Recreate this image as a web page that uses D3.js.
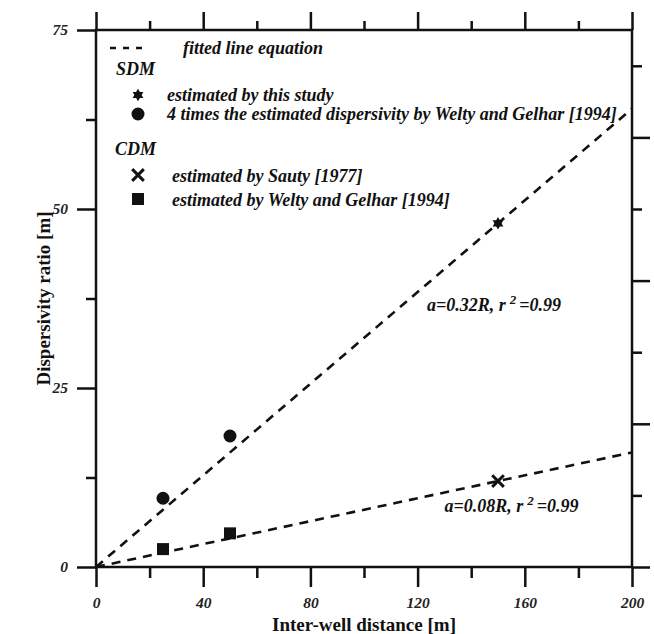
<!DOCTYPE html>
<html>
<head>
<meta charset="utf-8">
<script src="https://cdn.jsdelivr.net/npm/d3@7"></script>
<style>
  body { margin: 0; background: #fff; }
  svg { display: block; }
  .tick text { font-family: "Liberation Serif", serif; font-weight: bold; font-style: italic; font-size: 15.5px; fill: #222; }
  .lbl { font-family: "Liberation Serif", serif; font-weight: bold; font-style: italic; font-size: 18px; fill: #111; }
  .title { font-family: "Liberation Serif", serif; font-weight: bold; font-size: 19px; fill: #111; }
</style>
</head>
<body>
<script>
(function(){

    //data
    var starX = [150], starY = [48];            //SDM, this study
    var circleX = [25, 50], circleY = [9.6, 18.3]; //SDM, 4x Welty and Gelhar
    var crossX = [150], crossY = [12];          //CDM, Sauty
    var squareX = [25, 50], squareY = [2.5, 4.7]; //CDM, Welty and Gelhar
    var fitSlopes = [0.32, 0.08];
    var fitLabels = ["a=0.32R, r", "a=0.08R, r"];
    var fitLabelPos = [[123.5, 35.8], [130, 7.7]]; //x, y in data units
    var xMajor = [0, 40, 80, 120, 160, 200], xMinor = [20, 60, 100, 140, 180];
    var yMajor = [0, 25, 50, 75], yMinor = [12.5, 37.5, 62.5];
    var rMajor = [0, 2, 4, 6], rMinor = [1, 3, 5, 7];

    var width = 654, height = 634;
    var left = 96, right = 632, top = 30, bottom = 567;

    var svg = d3.select("body").append("svg")
        .attr("width", width)
        .attr("height", height);

    var x = d3.scaleLinear().domain([0, 200]).range([left, right]);
    var y = d3.scaleLinear().domain([0, 75]).range([bottom, top]);
    var yr = d3.scaleLinear().domain([0, 7.5]).range([bottom, top]);

    //axes: major and minor ticks drawn as separate axes
    function drawAxis(axis, tr, labels){
        var g = svg.append("g").attr("transform", tr).call(axis);
        g.select(".domain").remove();
        g.selectAll(".tick line").attr("stroke", "#111").attr("stroke-width", 2.5);
        if (!labels) g.selectAll(".tick text").remove();
        return g;
    }

    drawAxis(d3.axisBottom(x).tickValues(xMajor).tickSize(20).tickPadding(10).tickFormat(d3.format("d")), "translate(0," + bottom + ")", true);
    drawAxis(d3.axisBottom(x).tickValues(xMinor).tickSize(11), "translate(0," + bottom + ")", false);
    drawAxis(d3.axisTop(x).tickValues(xMajor).tickSize(18), "translate(0," + top + ")", false);
    drawAxis(d3.axisTop(x).tickValues(xMinor).tickSize(9), "translate(0," + top + ")", false);
    drawAxis(d3.axisLeft(y).tickValues(yMajor).tickSize(19).tickPadding(9), "translate(" + left + ",0)", true);
    drawAxis(d3.axisLeft(y).tickValues(yMinor).tickSize(10), "translate(" + left + ",0)", false);
    drawAxis(d3.axisRight(yr).tickValues(rMajor).tickSize(18), "translate(" + right + ",0)", false);
    drawAxis(d3.axisRight(yr).tickValues(rMinor).tickSize(10), "translate(" + right + ",0)", false);

    //frame
    svg.append("rect")
        .attr("x", left).attr("y", top)
        .attr("width", right - left).attr("height", bottom - top)
        .attr("fill", "none").attr("stroke", "#111").attr("stroke-width", 2.5);

    //fitted lines
    var line = d3.line().x(function(d){ return x(d[0]); }).y(function(d){ return y(d[1]); });
    fitSlopes.forEach(function(s){
        svg.append("path")
            .attr("d", line([[0, 0], [200, 200 * s]]))
            .attr("fill", "none").attr("stroke", "#111")
            .attr("stroke-width", 2.6).attr("stroke-dasharray", "9,7");
    });

    //fit labels
    fitLabels.forEach(function(t, i){
        var tx = svg.append("text").attr("class", "lbl")
            .attr("x", x(fitLabelPos[i][0])).attr("y", y(fitLabelPos[i][1]));
        tx.append("tspan").text(t);
        tx.append("tspan").attr("dy", -7).attr("dx", 4).style("font-size", "13px").text("2");
        tx.append("tspan").attr("dy", 7).attr("dx", 3).text("=0.99");
    });

    //markers
    var tri = d3.symbol().type(d3.symbolTriangle).size(50);
    function star(px, py){
        svg.append("path").attr("d", tri()).attr("transform", "translate(" + px + "," + py + ")").attr("fill", "#111");
        svg.append("path").attr("d", tri()).attr("transform", "translate(" + px + "," + py + ") rotate(180)").attr("fill", "#111");
    }
    function circle(px, py){
        svg.append("circle").attr("cx", px).attr("cy", py).attr("r", 6.5).attr("fill", "#111");
    }
    function cross(px, py){
        svg.append("path").attr("d", d3.symbol().type(d3.symbolTimes).size(90)())
            .attr("transform", "translate(" + px + "," + py + ")")
            .attr("fill", "none").attr("stroke", "#111").attr("stroke-width", 3);
    }
    function square(px, py){
        svg.append("rect").attr("x", px - 6).attr("y", py - 6).attr("width", 12).attr("height", 12).attr("fill", "#111");
    }

    starX.forEach(function(d, i){ star(x(d), y(starY[i])); });
    circleX.forEach(function(d, i){ circle(x(d), y(circleY[i])); });
    crossX.forEach(function(d, i){ cross(x(d), y(crossY[i])); });
    squareX.forEach(function(d, i){ square(x(d), y(squareY[i])); });

    //legend
    svg.append("line").attr("x1", 110).attr("x2", 142).attr("y1", 48).attr("y2", 48)
        .attr("stroke", "#111").attr("stroke-width", 2.6).attr("stroke-dasharray", "6,7");
    svg.append("text").attr("class", "lbl").attr("x", 183).attr("y", 54).text("fitted line equation");
    svg.append("text").attr("class", "lbl").attr("x", 116).attr("y", 75).text("SDM");
    star(138, 95);
    svg.append("text").attr("class", "lbl").attr("x", 167).attr("y", 101).text("estimated by this study");
    circle(138, 114);
    svg.append("text").attr("class", "lbl").attr("x", 167).attr("y", 120).text("4 times the estimated dispersivity by Welty and Gelhar [1994]");
    svg.append("text").attr("class", "lbl").attr("x", 115).attr("y", 155).text("CDM");
    cross(138, 175);
    svg.append("text").attr("class", "lbl").attr("x", 172).attr("y", 182).text("estimated by Sauty [1977]");
    square(138, 199);
    svg.append("text").attr("class", "lbl").attr("x", 172).attr("y", 206).text("estimated by Welty and Gelhar [1994]");

    //axis titles
    svg.append("text").attr("class", "title").attr("text-anchor", "middle")
        .attr("x", (left + right) / 2).attr("y", 631).text("Inter-well distance [m]");
    svg.append("text").attr("class", "title").attr("text-anchor", "middle")
        .attr("transform", "translate(50," + ((top + bottom) / 2) + ") rotate(-90)")
        .text("Dispersivity ratio [m]");

})();
</script>
</body>
</html>
